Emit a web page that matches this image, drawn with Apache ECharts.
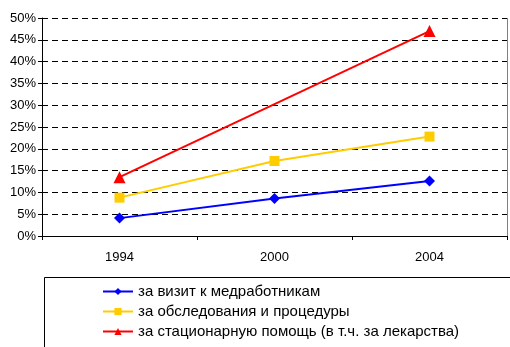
<!DOCTYPE html>
<html>
<head>
<meta charset="utf-8">
<script src="https://cdn.jsdelivr.net/npm/echarts@6/dist/echarts.min.js"></script>
<style>
html,body{margin:0;padding:0;background:#fff;}
#chart{width:510px;height:347px;}
</style>
</head>
<body>
<div id="chart"></div>
<script>
// Years on the category axis
const years = ['1994', '2000', '2004'];
// Share of payments, percent
const visitValues = [4.1, 8.6, 12.6];
const examValues = [8.8, 17.2, 22.8];
const hospitalValues = [13.5, null, 47];
const seriesNames = [
  'за визит к медработникам',
  'за обследования и процедуры',
  'за стационарную помощь (в т.ч. за лекарства)'
];

const font = '"Liberation Sans", Arial, sans-serif';
const chart = echarts.init(document.getElementById('chart'));

chart.setOption({
  animation: false,
  backgroundColor: '#fff',
  textStyle: { fontFamily: font },
  grid: { left: 42, right: 3, top: 18, bottom: 111, containLabel: false },
  xAxis: {
    type: 'category',
    data: years,
    boundaryGap: true,
    axisLine: { lineStyle: { color: '#000', width: 1 } },
    axisTick: { show: true, length: 4, lineStyle: { color: '#000' } },
    axisLabel: { color: '#000', fontSize: 13, fontFamily: font, margin: 15, letterSpacing: -0.5 },
    splitLine: { show: false }
  },
  yAxis: {
    type: 'value',
    min: 0, max: 50, interval: 5,
    axisLine: { show: true, lineStyle: { color: '#000', width: 1 } },
    axisTick: { show: true, length: 4, inside: false, lineStyle: { color: '#000' } },
    axisLabel: { color: '#000', fontSize: 13, fontFamily: font, margin: 6, letterSpacing: -0.5, formatter: '{value}%' },
    splitLine: { show: true, lineStyle: { color: '#000', type: [6, 4], width: 1 } }
  },
  legend: {
    orient: 'vertical',
    left: 97,
    top: 279,
    itemWidth: 30,
    itemHeight: 9,
    itemGap: 5,
    textStyle: { color: '#000', fontSize: 15, fontFamily: font, letterSpacing: -0.6 },
    data: seriesNames
  },
  graphic: [
    {
      type: 'rect',
      shape: { x: 44.5, y: 277.5, width: 480, height: 90 },
      style: { fill: 'none', stroke: '#000', lineWidth: 1 },
      silent: true
    },
    {
      type: 'line',
      shape: { x1: 507.5, y1: 18, x2: 507.5, y2: 236 },
      style: { stroke: '#808080', lineWidth: 1 },
      silent: true
    },
    {
      type: 'line',
      shape: { x1: 42, y1: 18.5, x2: 508, y2: 18.5 },
      style: { stroke: '#808080', lineWidth: 1, lineDash: [6, 4] },
      silent: true
    }
  ],
  series: [
    {
      name: seriesNames[0], type: 'line', data: visitValues,
      symbol: 'diamond', symbolSize: 11,
      lineStyle: { color: '#0000ff', width: 2 },
      itemStyle: { color: '#0000ff' }
    },
    {
      name: seriesNames[1], type: 'line', data: examValues,
      symbol: 'rect', symbolSize: 10,
      lineStyle: { color: '#ffcc00', width: 2 },
      itemStyle: { color: '#ffcc00' }
    },
    {
      name: seriesNames[2], type: 'line', data: hospitalValues,
      connectNulls: true,
      symbol: 'triangle', symbolSize: 12,
      lineStyle: { color: '#ff0000', width: 2 },
      itemStyle: { color: '#ff0000' }
    }
  ]
});
</script>
</body>
</html>
